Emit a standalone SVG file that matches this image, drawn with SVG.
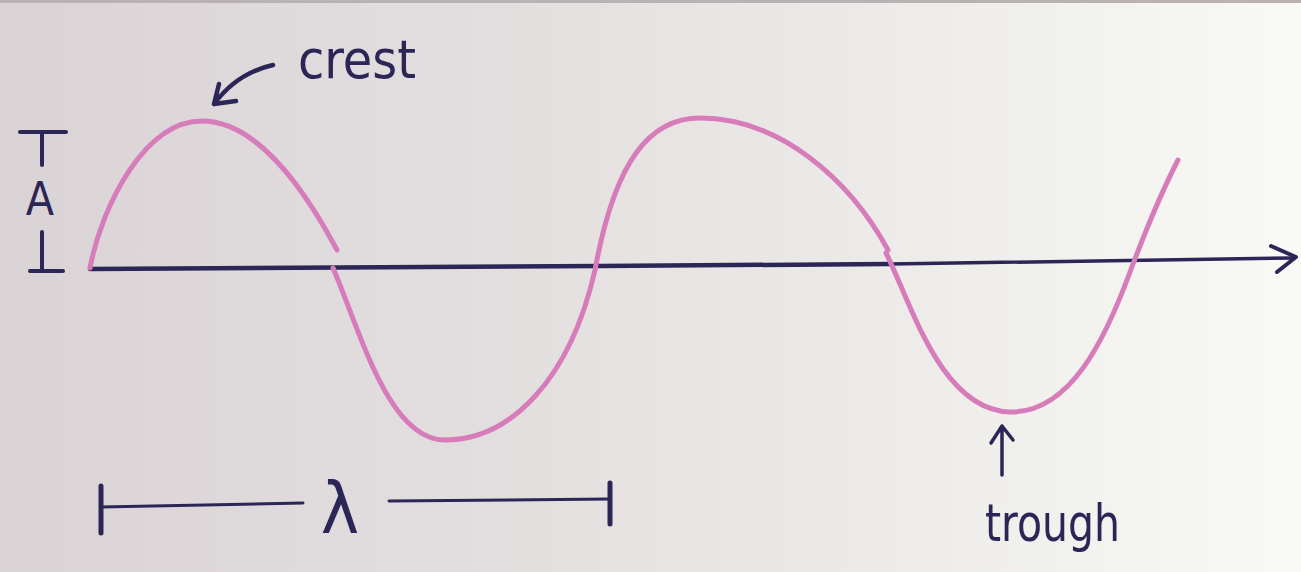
<svg xmlns="http://www.w3.org/2000/svg" width="1301" height="572" viewBox="0 0 1301 572">
  <defs>
    <linearGradient id="bg" x1="0" y1="0" x2="1" y2="0">
      <stop offset="0" stop-color="#dad3d6"/>
      <stop offset="0.4" stop-color="#e3dfdf"/>
      <stop offset="0.75" stop-color="#efeeeb"/>
      <stop offset="1" stop-color="#f9f9f5"/>
    </linearGradient>
    <style>
      .ink { fill: none; stroke: #2b2656; stroke-linecap: round; stroke-linejoin: round; }
      .wave { fill: none; stroke: #d77cba; stroke-width: 5; stroke-linecap: round; stroke-linejoin: round; }
      .lbl { fill: #2b2656; font-family: "DejaVu Sans Condensed", "DejaVu Sans", "Liberation Sans", sans-serif; font-stretch: condensed; }
    </style>
  </defs>
  <rect width="1301" height="572" fill="url(#bg)"/>
  <rect width="1301" height="3" fill="#b8b2b4"/>

  <g id="axis">
    <path class="ink" stroke-width="4.5" d="M90,269 L600,266 L890,264"/>
    <path class="ink" stroke-width="3.5" d="M890,264 L1294,258"/>
    <path class="ink" stroke-width="4" d="M1271,246 L1296,257 L1277,272"/>
  </g>

  <g id="wave">
    <path class="wave" d="M90,268 C102,205 145,121 202,121 C257,121 305,190 337,250"/>
    <path class="wave" d="M333,268 C360,330 388,440 445,440 C510,440 570,380 595,270 C615,160 650,118 700,118 C780,118 850,180 888,250"/>
    <path class="wave" d="M886,253 C910,300 940,410 1010,412 C1070,413 1105,340 1130,272 C1145,232 1160,195 1178,160"/>
  </g>

  <g id="amplitude">
    <path class="ink" stroke-width="4" d="M20,132 L66,132 M42,132 L42,165"/>
    <text class="lbl" x="40" y="215" font-size="46" text-anchor="middle">A</text>
    <path class="ink" stroke-width="4" d="M42,232 L42,271 M30,271 L63,271"/>
  </g>

  <g id="crest">
    <path class="ink" stroke-width="4.5" d="M273,65 Q237,73 214,104 M219,84 L214,104 L236,101"/>
    <text class="lbl" x="298" y="78" font-size="54" textLength="118" lengthAdjust="spacingAndGlyphs">crest</text>
  </g>

  <g id="trough">
    <path class="ink" stroke-width="3.5" d="M1002,475 L1002,426 M991,443 L1002,426 L1013,440"/>
    <text class="lbl" x="985" y="541" font-size="52" textLength="135" lengthAdjust="spacingAndGlyphs">trough</text>
  </g>

  <g id="wavelength">
    <path class="ink" stroke-width="5" d="M101,486 L101,533 M610,483 L610,524"/>
    <path class="ink" stroke-width="3" d="M101,507 L303,503 M389,501 L610,499"/>
    <text class="lbl" x="340" y="533" font-size="72" text-anchor="middle">λ</text>
  </g>
</svg>
